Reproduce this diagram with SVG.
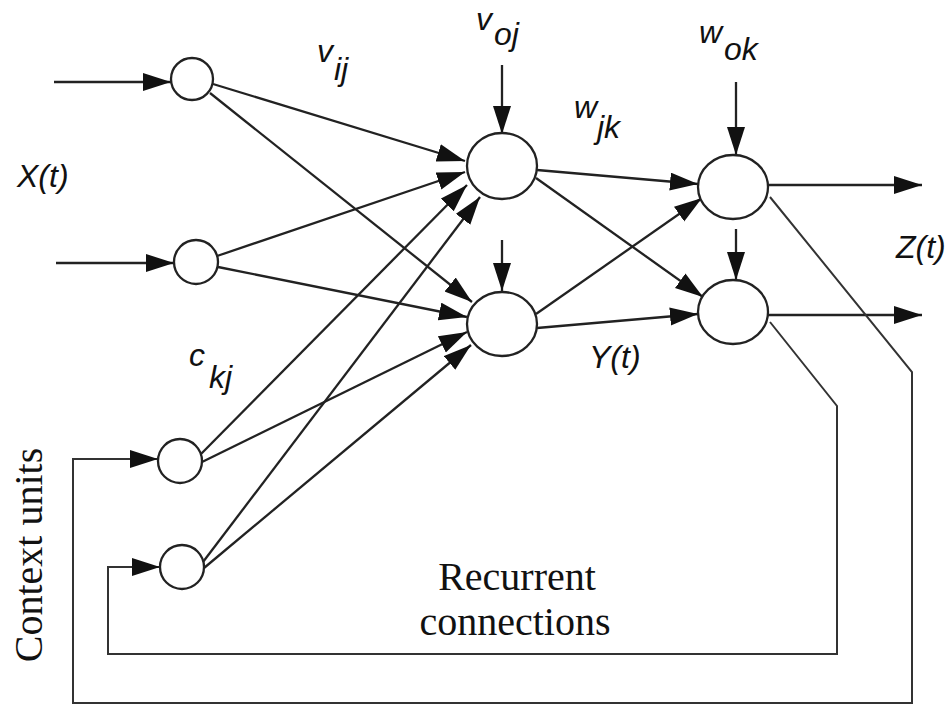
<svg xmlns="http://www.w3.org/2000/svg" width="952" height="706" viewBox="0 0 952 706">
<style>
.n{fill:#fff;stroke:#222;stroke-width:2.3}
.c{fill:none;stroke:#222;stroke-width:2.3}
.f{fill:none;stroke:#333;stroke-width:2}
.a{marker-end:url(#ah)}
.l{font-family:"Liberation Sans",Arial,sans-serif;font-style:italic;font-size:32px;fill:#111}
.s{font-family:"Liberation Serif","Times New Roman",serif;font-size:40px;fill:#111}
</style>
<defs>
<marker id="ah" markerUnits="userSpaceOnUse" markerWidth="30" markerHeight="20" refX="28" refY="9" orient="auto">
<path d="M0,0 L28,9 L0,18 z" fill="#111"/>
</marker>
</defs>
<rect width="952" height="706" fill="#fff"/>
<g id="connectors">
<line class="c a" x1="54" y1="82" x2="171" y2="82"/>
<line class="c a" x1="56" y1="263" x2="174" y2="263"/>
<line class="c a" x1="213" y1="84" x2="465" y2="161"/>
<line class="c a" x1="217" y1="256" x2="465" y2="172"/>
<line class="c a" x1="200" y1="455" x2="467" y2="185"/>
<line class="c a" x1="203" y1="562" x2="480" y2="197"/>
<line class="c a" x1="210" y1="93" x2="472" y2="302"/>
<line class="c a" x1="218" y1="267" x2="467" y2="317"/>
<line class="c a" x1="202" y1="462" x2="467" y2="332"/>
<line class="c a" x1="204" y1="568" x2="471" y2="345"/>
<line class="c a" x1="502" y1="65" x2="502" y2="134"/>
<line class="c a" x1="502" y1="240" x2="502" y2="291"/>
<line class="c a" x1="736" y1="82" x2="736" y2="155"/>
<line class="c a" x1="736" y1="229" x2="736" y2="280"/>
<line class="c a" x1="537" y1="170" x2="698" y2="184"/>
<line class="c a" x1="536" y1="178" x2="703" y2="297"/>
<line class="c a" x1="536" y1="314" x2="702" y2="198"/>
<line class="c a" x1="537" y1="328" x2="698" y2="314"/>
<line class="c a" x1="768" y1="185" x2="922" y2="185"/>
<line class="c a" x1="768" y1="315" x2="922" y2="315"/>
<path class="f a" d="M770,197 L912,372 L912,703 L73,703 L73,459 L158,459"/>
<path class="f a" d="M770,322 L837,406 L837,654 L108,654 L108,567 L160,567"/>
</g>
<g id="input1"><circle class="n" cx="192" cy="79" r="21"/></g>
<g id="input2"><circle class="n" cx="196" cy="262" r="22"/></g>
<g id="context1"><circle class="n" cx="180" cy="461" r="22"/></g>
<g id="context2"><circle class="n" cx="182" cy="567" r="22"/></g>
<g id="hidden1"><ellipse class="n" cx="502" cy="166" rx="35" ry="33"/></g>
<g id="hidden2"><ellipse class="n" cx="502" cy="324" rx="35" ry="32"/></g>
<g id="output1"><ellipse class="n" cx="733" cy="187" rx="35" ry="32"/></g>
<g id="output2"><ellipse class="n" cx="733" cy="312" rx="35" ry="32"/></g>
<g id="labels">
<text class="l" x="17" y="187">X(t)</text>
<text class="l" x="896" y="258">Z(t)</text>
<text class="l" x="589" y="368">Y(t)</text>
<text class="l" x="317" y="62">v</text><text class="l" x="334" y="80">ij</text>
<text class="l" x="476" y="30">v</text><text class="l" x="494" y="45">oj</text>
<text class="l" x="574" y="118">w</text><text class="l" x="597" y="138">jk</text>
<text class="l" x="699" y="43">w</text><text class="l" x="724" y="60">ok</text>
<text class="l" x="189" y="366">c</text><text class="l" x="209" y="388">kj</text>
<text class="s" x="517" y="590" text-anchor="middle">Recurrent</text>
<text class="s" x="515" y="635" text-anchor="middle">connections</text>
<text class="s" transform="translate(42,555) rotate(-90)" text-anchor="middle">Context units</text>
</g>
</svg>
